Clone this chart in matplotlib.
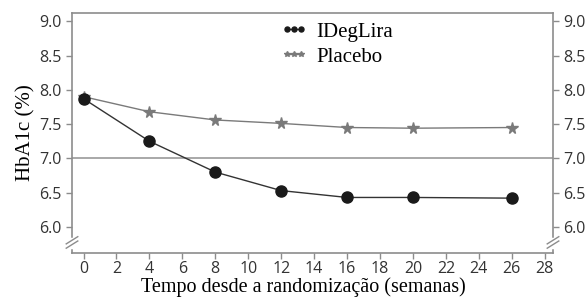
import matplotlib.pyplot as plt

weeks = [0, 4, 8, 12, 16, 20, 26]
ideglira = [7.87, 7.25, 6.80, 6.53, 6.43, 6.43, 6.42]
placebo = [7.90, 7.68, 7.56, 7.51, 7.45, 7.44, 7.45]
xticks = list(range(0, 29, 2))
yticks = [6.0, 6.5, 7.0, 7.5, 8.0, 8.5, 9.0]

spine_gray = '#8c8c8c'

fig = plt.figure(figsize=(5.87, 3.0), dpi=100)
ax = fig.add_axes([72 / 587, 47 / 300, (553 - 72) / 587, 240 / 300])

ax.axhline(7.0, color='#999999', lw=1.2, zorder=1)
ax.plot(weeks, placebo, color='#7a7a7a', lw=1.0, marker='*', ms=8.5,
        markerfacecolor='#7a7a7a', markeredgecolor='#7a7a7a', label='Placebo', zorder=2)
ax.plot(weeks, ideglira, color='#333333', lw=1.0, marker='o', ms=8,
        markerfacecolor='#1a1a1a', markeredgecolor='#1a1a1a', label='IDegLira', zorder=3)

ax.set_xlim(-0.7, 28.5)
ax.set_ylim(5.62, 9.12)
ax.set_xticks(xticks)
ax.set_yticks(yticks)
ax.set_yticklabels([f'{v:.1f}' for v in yticks])

for s in ax.spines.values():
    s.set_color(spine_gray)
    s.set_linewidth(1.2)

ax.tick_params(axis='both', colors=spine_gray, length=4, width=1.0, labelcolor='#333333')
ax.tick_params(axis='x', pad=2)
ax.tick_params(axis='y', right=True, labelright=True)
for lab in ax.get_xticklabels() + ax.get_yticklabels():
    lab.set_fontfamily('Open Sans')
    lab.set_fontsize(11.5)

ax.set_xlabel('Tempo desde a randomização (semanas)', family='Liberation Serif',
              fontsize=14.5, labelpad=0, x=0.48)
ax.set_ylabel('HbA1c (%)', family='Liberation Serif', fontsize=15, labelpad=3)

# axis break marks
for xb in (0.0, 1.0):
    for dy in (0.0, 0.018):
        ax.plot([xb - 0.012, xb + 0.012], [0.02 + dy, 0.05 + dy], transform=ax.transAxes,
                color=spine_gray, lw=1.0, clip_on=False, zorder=5)
    ax.plot([xb, xb], [0.025, 0.06], transform=ax.transAxes, color='white', lw=2.5,
            clip_on=False, zorder=4)

handles, labels = ax.get_legend_handles_labels()
ax.legend(handles[::-1], labels[::-1], loc='upper center', bbox_to_anchor=(0.55, 1.04),
          frameon=False, numpoints=3, markerscale=0.45, handlelength=1.3,
          prop={'family': 'Liberation Serif', 'size': 15}, handletextpad=0.4,
          labelspacing=0.25)

fig.savefig('out.png', dpi=100)
